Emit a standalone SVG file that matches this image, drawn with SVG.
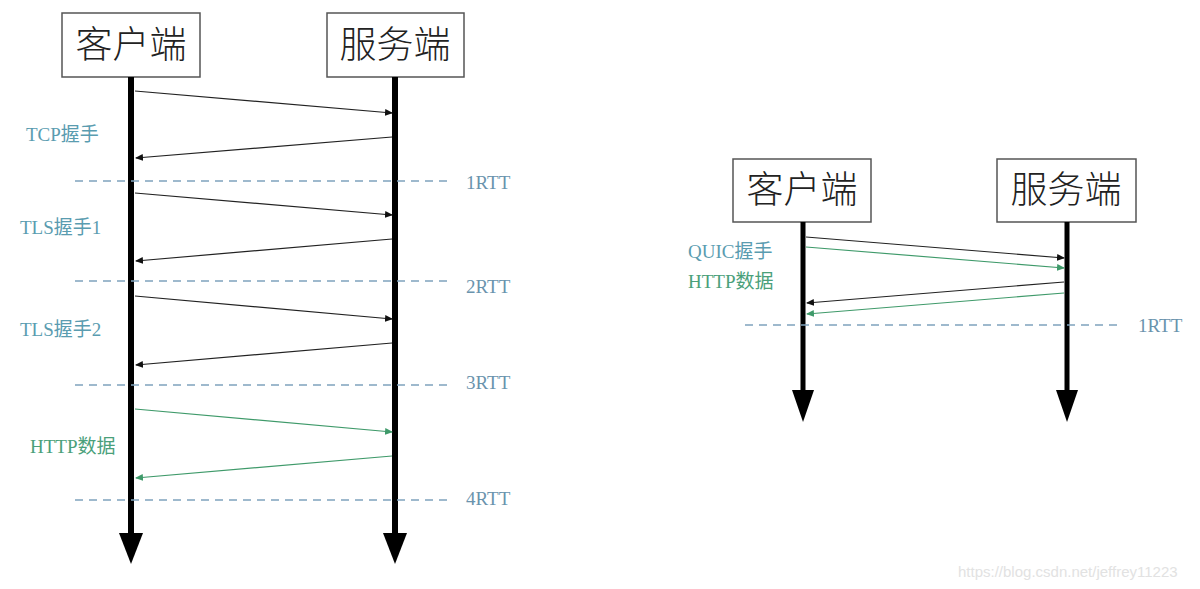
<svg xmlns="http://www.w3.org/2000/svg" width="1200" height="589" viewBox="0 0 1200 589">
<style>
.box{fill:#fff;stroke:#555;stroke-width:1.5}
.title{font-family:"Liberation Serif","Noto Sans CJK SC",serif;fill:#222;text-anchor:middle;font-weight:300}
.life{stroke:#000;stroke-width:6}
.life2{stroke:#000;stroke-width:5}
.head{fill:#000}
.msg{stroke:#222;stroke-width:1.2;fill:none;marker-end:url(#ab)}
.gmsg{stroke:#3f9a6a;stroke-width:1.2;fill:none;marker-end:url(#ag)}
.dash{stroke:#7fa3bd;stroke-width:1.3;stroke-dasharray:8 6}
.lbl{font-family:"Liberation Serif","Noto Sans CJK SC",serif;font-size:19px;fill:#5a9cb0}
.glbl{font-family:"Liberation Serif","Noto Sans CJK SC",serif;font-size:19px;fill:#4aa07a}
.rtt{font-family:"Liberation Serif","Noto Sans CJK SC",serif;font-size:19px;fill:#6a93ad}
</style>
<defs>
<marker id="ab" markerWidth="8" markerHeight="8" refX="7" refY="4" orient="auto" markerUnits="userSpaceOnUse"><path d="M0,0.5 L8,4 L0,7.5 Z" fill="#111"/></marker>
<marker id="ag" markerWidth="8" markerHeight="8" refX="7" refY="4" orient="auto" markerUnits="userSpaceOnUse"><path d="M0,0.5 L8,4 L0,7.5 Z" fill="#3f9a6a"/></marker>
</defs>
<rect width="1200" height="589" fill="#fff"/>

<g id="left-client">
<rect class="box" x="62" y="13" width="138" height="64"/>
<text class="title" x="131" y="58" font-size="37">客户端</text>
<line class="life" x1="131" y1="77" x2="131" y2="535"/>
<path class="head" d="M119,533 L143,533 L131,564 Z"/>
</g>
<g id="left-server">
<rect class="box" x="327" y="13" width="137" height="64"/>
<text class="title" x="395" y="58" font-size="37">服务端</text>
<line class="life" x1="395" y1="77" x2="395" y2="535"/>
<path class="head" d="M383,533 L407,533 L395,564 Z"/>
</g>

<g id="right-client">
<rect class="box" x="733" y="159" width="138" height="63"/>
<text class="title" x="802" y="203" font-size="37">客户端</text>
<line class="life2" x1="803" y1="222" x2="803" y2="392"/>
<path class="head" d="M792,390 L814,390 L803,422 Z"/>
</g>
<g id="right-server">
<rect class="box" x="997" y="159" width="139" height="63"/>
<text class="title" x="1066" y="203" font-size="37">服务端</text>
<line class="life2" x1="1067" y1="222" x2="1067" y2="392"/>
<path class="head" d="M1056,390 L1078,390 L1067,422 Z"/>
</g>

<g id="connectors">
<line class="dash" x1="75" y1="181" x2="450" y2="181"/>
<line class="dash" x1="75" y1="281" x2="450" y2="281"/>
<line class="dash" x1="75" y1="385" x2="450" y2="385"/>
<line class="dash" x1="75" y1="500" x2="450" y2="500"/>
<line class="msg" x1="135" y1="91" x2="392" y2="113"/>
<line class="msg" x1="392" y1="137" x2="136" y2="158"/>
<line class="msg" x1="135" y1="193" x2="392" y2="215"/>
<line class="msg" x1="392" y1="239" x2="136" y2="261"/>
<line class="msg" x1="135" y1="296" x2="392" y2="319"/>
<line class="msg" x1="392" y1="343" x2="136" y2="365"/>
<line class="gmsg" x1="135" y1="409" x2="392" y2="432"/>
<line class="gmsg" x1="392" y1="456" x2="136" y2="478"/>

<line class="dash" x1="745" y1="325" x2="1120" y2="325"/>
<line class="msg" x1="806" y1="237" x2="1064" y2="258"/>
<line class="gmsg" x1="806" y1="247" x2="1064" y2="268"/>
<line class="msg" x1="1064" y1="282" x2="807" y2="303"/>
<line class="gmsg" x1="1064" y1="293" x2="807" y2="314"/>
</g>

<g id="labels">
<text class="lbl" x="26" y="141">TCP握手</text>
<text class="lbl" x="20" y="234">TLS握手1</text>
<text class="lbl" x="20" y="336">TLS握手2</text>
<text class="glbl" x="30" y="453">HTTP数据</text>
<text class="rtt" x="466" y="189">1RTT</text>
<text class="rtt" x="466" y="293">2RTT</text>
<text class="rtt" x="466" y="389">3RTT</text>
<text class="rtt" x="466" y="505">4RTT</text>
<text class="lbl" x="688" y="258">QUIC握手</text>
<text class="glbl" x="688" y="288">HTTP数据</text>
<text class="rtt" x="1138" y="332">1RTT</text>
</g>

<text x="958" y="577" font-family="Liberation Sans,sans-serif" font-size="15" fill="#e2e2e2">https://blog.csdn.net/jeffrey11223</text>
</svg>
